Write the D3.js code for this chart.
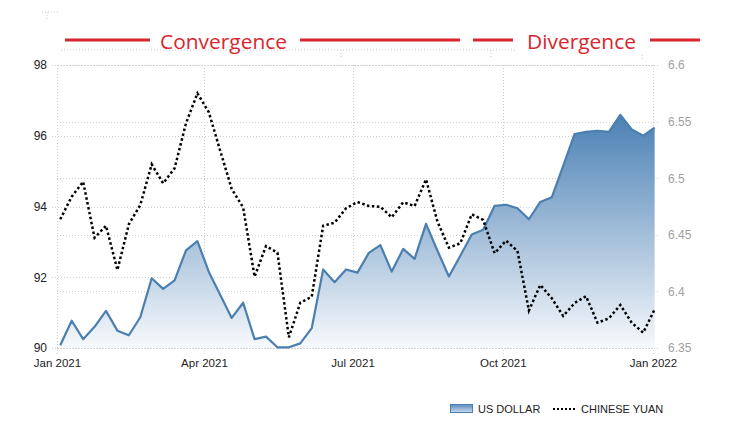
<!DOCTYPE html>
<html>
<head>
<meta charset="utf-8">
<script src="https://cdn.jsdelivr.net/npm/d3@7"></script>
<style>
  body { margin: 0; background: #fff; }
  svg { display: block; font-family: "Liberation Sans", Arial, sans-serif; }
</style>
</head>
<body>
<div id="okvir"></div>
<script>
// weekly dates, one per point
const datumi = [
  "2021-01-03","2021-01-10","2021-01-17","2021-01-24","2021-01-31",
  "2021-02-07","2021-02-14","2021-02-21","2021-02-28",
  "2021-03-07","2021-03-14","2021-03-21","2021-03-28",
  "2021-04-04","2021-04-11","2021-04-18","2021-04-25",
  "2021-05-02","2021-05-09","2021-05-16","2021-05-23","2021-05-30",
  "2021-06-06","2021-06-13","2021-06-20","2021-06-27",
  "2021-07-04","2021-07-11","2021-07-18","2021-07-25",
  "2021-08-01","2021-08-08","2021-08-15","2021-08-22","2021-08-29",
  "2021-09-05","2021-09-12","2021-09-19","2021-09-26",
  "2021-10-03","2021-10-10","2021-10-17","2021-10-24","2021-10-31",
  "2021-11-07","2021-11-14","2021-11-21","2021-11-28",
  "2021-12-05","2021-12-12","2021-12-19","2021-12-26",
  "2022-01-02"
]

const usDollar = [
  90.08, 90.77, 90.25, 90.60, 91.05, 90.49, 90.36, 90.87, 91.97, 91.67,
  91.91, 92.76, 93.02, 92.15, 91.50, 90.85, 91.28, 90.25, 90.32, 90.02,
  90.02, 90.13, 90.56, 92.22, 91.86, 92.22, 92.13, 92.69, 92.91, 92.16,
  92.80, 92.52, 93.51, 92.75, 92.02, 92.61, 93.21, 93.34, 94.02, 94.05,
  93.95, 93.64, 94.13, 94.26, 95.15, 96.05, 96.11, 96.14, 96.11, 96.59,
  96.18, 96.00, 96.23
]

const chineseYuan = [
  6.4637, 6.4837, 6.4969, 6.4474, 6.4580, 6.4189, 6.4593, 6.4763, 6.5123, 6.4955,
  6.5087, 6.5485, 6.5750, 6.5582, 6.5240, 6.4905, 6.4741, 6.4130, 6.4401, 6.4342,
  6.3595, 6.3900, 6.3953, 6.4580, 6.4607, 6.4734, 6.4790, 6.4754, 6.4748, 6.4655,
  6.4787, 6.4754, 6.4990, 6.4616, 6.4386, 6.4425, 6.4681, 6.4631, 6.4337, 6.4448,
  6.4357, 6.3831, 6.4057, 6.3939, 6.3783, 6.3898, 6.3957, 6.3723, 6.3762, 6.3880,
  6.3723, 6.3635, 6.3842
]

const lijeviTickovi = [90, 92, 94, 96, 98]
const desniTickovi = [6.35, 6.4, 6.45, 6.5, 6.55, 6.6]
const xTickovi = ["2021-01-01", "2021-04-01", "2021-07-01", "2021-10-01", "2022-01-01"]
const legenda = ["US DOLLAR", "CHINESE YUAN"]
const naslovi = ["Convergence", "Divergence"]

function crtaj(){
    const parse = d3.timeParse("%Y-%m-%d")
    const podatci = datumi.map((d, i) => ({
        datum: parse(d),
        usd: usDollar[i],
        cny: chineseYuan[i]
    }))

    const dimenzije = {
        sirina: 736,
        visina: 439,
        lijevo: 57,
        desno: 653,
        gore: 65,
        dolje: 348
    }

    const okvir = d3.select("#okvir")
        .append("svg")
        .attr("width", dimenzije.sirina)
        .attr("height", dimenzije.visina)

    const xSkala = d3.scaleTime()
        .domain([parse(xTickovi[0]), parse(xTickovi[xTickovi.length - 1])])
        .range([dimenzije.lijevo, dimenzije.desno])

    const yLijevo = d3.scaleLinear()
        .domain([90, 98])
        .range([dimenzije.dolje, dimenzije.gore])

    const yDesno = d3.scaleLinear()
        .domain([6.35, 6.6])
        .range([dimenzije.dolje, dimenzije.gore])

    // gradijent za povrsinu
    const defs = okvir.append("defs")
    const grad = defs.append("linearGradient")
        .attr("id", "plavi")
        .attr("gradientUnits", "userSpaceOnUse")
        .attr("x1", 0).attr("x2", 0)
        .attr("y1", yLijevo(96.6)).attr("y2", dimenzije.dolje)
    grad.append("stop").attr("offset", "0%").attr("stop-color", "#4a80b4")
    grad.append("stop").attr("offset", "100%").attr("stop-color", "#f7f9fc")

    const gradLeg = defs.append("linearGradient")
        .attr("id", "plaviLeg")
        .attr("x1", 0).attr("x2", 0).attr("y1", 0).attr("y2", 1)
    gradLeg.append("stop").attr("offset", "0%").attr("stop-color", "#5b8cbd")
    gradLeg.append("stop").attr("offset", "100%").attr("stop-color", "#c9daea")

    // ostatci pozadinske slike (tockaste linije gore)
    const ostatak = okvir.append("g")
        .attr("stroke", "#c8c8c8")
        .attr("stroke-dasharray", "1,2")
        .attr("fill", "none")
    ostatak.append("line").attr("x1", 42).attr("x2", 59).attr("y1", 12).attr("y2", 12)
    ostatak.append("line").attr("x1", 47).attr("x2", 47).attr("y1", 12).attr("y2", 19)
    ostatak.append("line").attr("x1", 61).attr("x2", 517).attr("y1", 50).attr("y2", 50)
    ostatak.append("line").attr("x1", 341).attr("x2", 341).attr("y1", 50).attr("y2", 58)
    ostatak.append("line").attr("x1", 491).attr("x2", 491).attr("y1", 50).attr("y2", 58)
    ostatak.append("line").attr("x1", 642).attr("x2", 642).attr("y1", 55).attr("y2", 59)

    // mreza
    const mreza = okvir.append("g")
        .attr("stroke", "#cfcfcf")
        .attr("stroke-dasharray", "1,2")
        .attr("fill", "none")

    mreza.selectAll(".hl")
        .data(lijeviTickovi)
        .join("line")
        .attr("x1", dimenzije.lijevo - 5)
        .attr("x2", dimenzije.desno)
        .attr("y1", d => Math.round(yLijevo(d)) + 0.5)
        .attr("y2", d => Math.round(yLijevo(d)) + 0.5)

    mreza.selectAll(".hd")
        .data(desniTickovi)
        .join("line")
        .attr("x1", dimenzije.lijevo)
        .attr("x2", dimenzije.desno + 7)
        .attr("y1", d => Math.round(yDesno(d)) + 0.5)
        .attr("y2", d => Math.round(yDesno(d)) + 0.5)

    mreza.selectAll(".v")
        .data(xTickovi)
        .join("line")
        .attr("x1", d => Math.round(xSkala(parse(d))) + 0.5)
        .attr("x2", d => Math.round(xSkala(parse(d))) + 0.5)
        .attr("y1", dimenzije.gore)
        .attr("y2", dimenzije.dolje + 6)

    // US dollar povrsina
    const povrsina = d3.area()
        .x(d => xSkala(d.datum))
        .y0(dimenzije.dolje)
        .y1(d => yLijevo(d.usd))

    okvir.append("path")
        .datum(podatci)
        .attr("d", povrsina)
        .attr("fill", "url(#plavi)")

    okvir.append("path")
        .datum(podatci)
        .attr("d", d3.line().x(d => xSkala(d.datum)).y(d => yLijevo(d.usd)))
        .attr("fill", "none")
        .attr("stroke", "#4a7fb0")
        .attr("stroke-width", 2.2)
        .attr("stroke-linejoin", "round")

    // yuan
    okvir.append("path")
        .datum(podatci)
        .attr("d", d3.line().x(d => xSkala(d.datum)).y(d => yDesno(d.cny)))
        .attr("fill", "none")
        .attr("stroke", "#000")
        .attr("stroke-width", 2.5)
        .attr("stroke-dasharray", "2.5,2.5")

    // osi
    const lijevaOs = okvir.append("g")
        .attr("transform", `translate(${dimenzije.lijevo - 10},0)`)
        .call(d3.axisLeft(yLijevo).tickValues(lijeviTickovi).tickSize(0).tickPadding(0))
    lijevaOs.select(".domain").remove()
    lijevaOs.selectAll("text")
        .attr("fill", "#222")
        .attr("font-size", 12)
        .attr("font-family", "Liberation Sans, Arial, sans-serif")

    const desnaOs = okvir.append("g")
        .attr("transform", `translate(${dimenzije.desno + 15},0)`)
        .call(d3.axisRight(yDesno).tickValues(desniTickovi).tickSize(0).tickPadding(0).tickFormat(d3.format("")))
    desnaOs.select(".domain").remove()
    desnaOs.selectAll("text")
        .attr("fill", "#a0a0a0")
        .attr("font-size", 12)
        .attr("font-family", "Liberation Sans, Arial, sans-serif")

    const xOs = okvir.append("g")
        .attr("transform", `translate(0,${dimenzije.dolje + 9})`)
        .call(d3.axisBottom(xSkala).tickValues(xTickovi.map(parse)).tickSize(0).tickPadding(2).tickFormat(d3.timeFormat("%b %Y")))
    xOs.select(".domain").remove()
    xOs.selectAll("text")
        .attr("fill", "#222")
        .attr("font-size", 11.5)
        .attr("font-family", "Liberation Sans, Arial, sans-serif")

    // crvene oznake
    const crvena = "#d9262e"
    const oznake = okvir.append("g")
    const crte = [[65, 150], [300, 460], [473, 513], [650, 700]]
    oznake.selectAll("line")
        .data(crte)
        .join("line")
        .attr("x1", d => d[0])
        .attr("x2", d => d[1])
        .attr("y1", 40)
        .attr("y2", 40)
        .attr("stroke", crvena)
        .attr("stroke-width", 3)
    oznake.selectAll("text")
        .data([[160, 127, naslovi[0]], [527, 109, naslovi[1]]])
        .join("text")
        .attr("x", d => d[0])
        .attr("y", 49)
        .attr("textLength", d => d[1])
        .attr("lengthAdjust", "spacingAndGlyphs")
        .attr("fill", crvena)
        .attr("font-size", 20)
        .attr("font-family", "Open Sans, sans-serif")
        .text(d => d[2])

    // legenda
    const leg = okvir.append("g")
    leg.append("rect")
        .attr("x", 450.5).attr("y", 404.5)
        .attr("width", 22).attr("height", 8)
        .attr("fill", "url(#plaviLeg)")
        .attr("stroke", "#4a7fb0")
    leg.append("text")
        .attr("x", 478).attr("y", 413)
        .attr("font-size", 11)
        .attr("fill", "#222")
        .text(legenda[0])
    leg.append("line")
        .attr("x1", 553).attr("x2", 576)
        .attr("y1", 409).attr("y2", 409)
        .attr("stroke", "#000")
        .attr("stroke-width", 2)
        .attr("stroke-dasharray", "2,2")
    leg.append("text")
        .attr("x", 581).attr("y", 413)
        .attr("font-size", 11)
        .attr("fill", "#222")
        .text(legenda[1])
}
crtaj();
</script>
</body>
</html>
